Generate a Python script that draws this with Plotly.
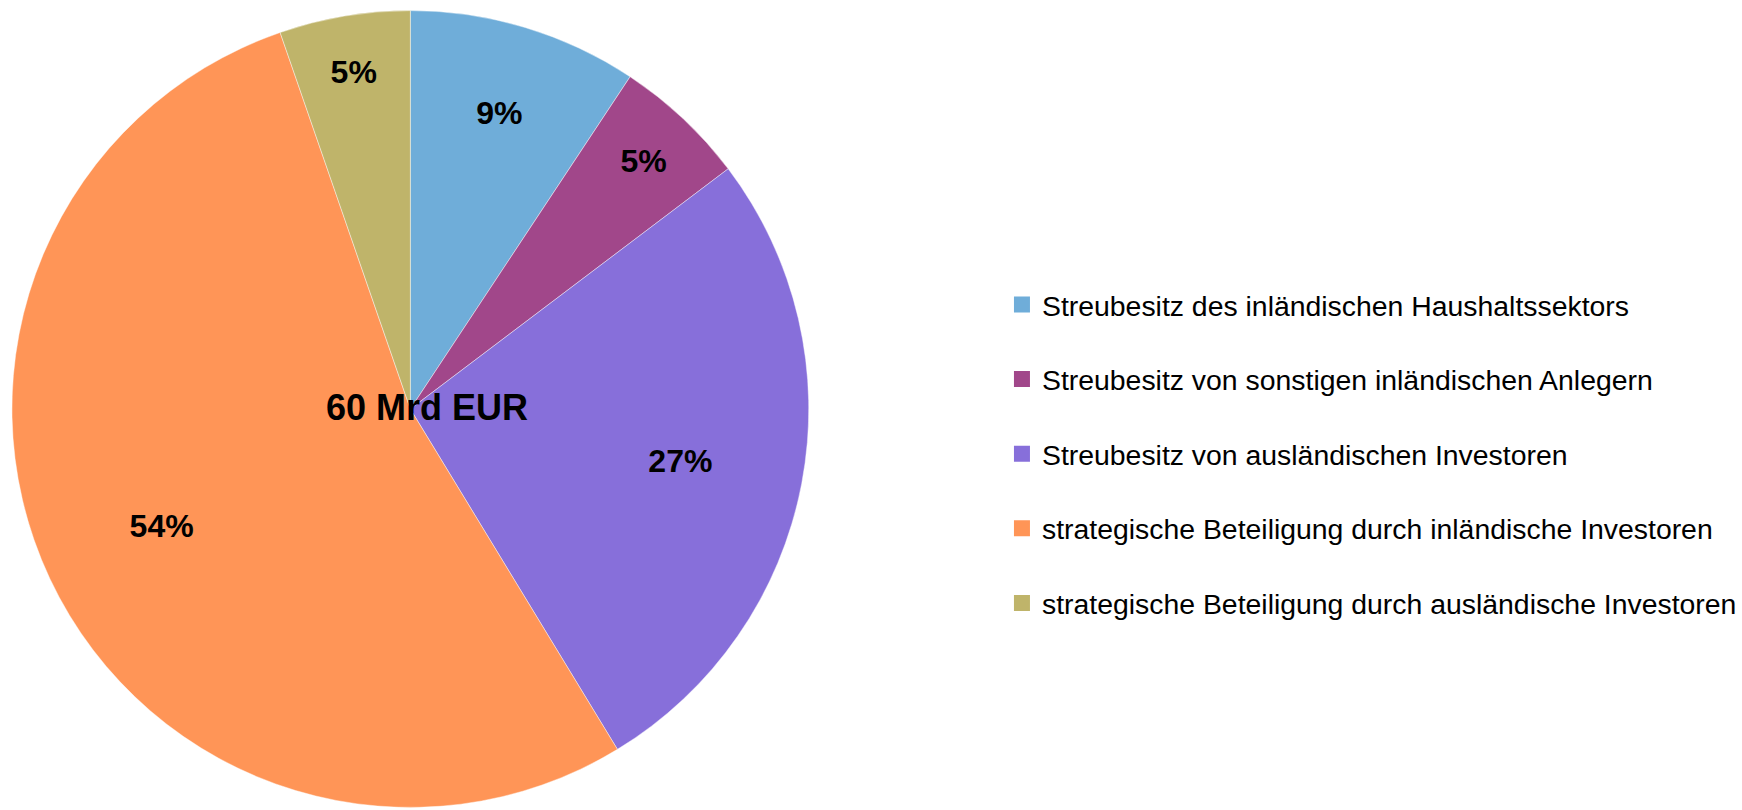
import plotly.graph_objects as go

categories = [
    "Streubesitz des inländischen Haushaltssektors",
    "Streubesitz von sonstigen inländischen Anlegern",
    "Streubesitz von ausländischen Investoren",
    "strategische Beteiligung durch inländische Investoren",
    "strategische Beteiligung durch ausländische Investoren",
]
shares = [9.3, 5.4, 26.6, 53.4, 5.3]
share_labels = ["9%", "5%", "27%", "54%", "5%"]
colors = ["#6FADD9", "#A1478A", "#876FDA", "#FF9557", "#BFB46A"]
center_label = "60 Mrd EUR"

W, H = 1742, 810
cx, cy, R = 412, 409, 400
dom = dict(x=[(cx - R) / W, (cx + R) / W], y=[(H - cy - R) / H, (H - cy + R) / H])

fig = go.Figure()
# the pie itself
fig.add_trace(go.Pie(
    labels=categories,
    values=shares,
    textinfo="none",
    marker=dict(colors=colors, line=dict(color="rgba(255,255,255,0.6)", width=0.7)),
    sort=False,
    direction="clockwise",
    rotation=0,
    showlegend=False,
    domain=dom,
    hoverinfo="label+percent",
))
# same slices, transparent, used only to place the percentage labels further out
fig.add_trace(go.Pie(
    labels=categories,
    values=shares,
    text=share_labels,
    textinfo="text",
    textposition="inside",
    insidetextorientation="horizontal",
    textfont=dict(family="Liberation Sans", size=32, color="black", weight="bold"),
    marker=dict(colors=["rgba(0,0,0,0)"] * len(shares), line=dict(width=0)),
    hole=0.38,
    sort=False,
    direction="clockwise",
    rotation=0,
    showlegend=False,
    domain=dom,
    hoverinfo="skip",
))

for i, (name, col) in enumerate(zip(categories, colors)):
    fig.add_trace(go.Scatter(
        x=[None], y=[None], mode="markers", name=name,
        marker=dict(symbol="square", size=16, color=col),
        legendgroup=f"g{i}", showlegend=True,
    ))

fig.add_annotation(
    x=429 / W, y=1 - 408 / H, xref="paper", yref="paper",
    text=f"<b>{center_label}</b>", showarrow=False,
    font=dict(family="Liberation Sans", size=36, color="black"),
    xanchor="center", yanchor="middle",
)

fig.update_layout(
    width=W, height=H, autosize=False,
    margin=dict(l=0, r=0, t=0, b=0),
    paper_bgcolor="white",
    plot_bgcolor="white",
    xaxis=dict(visible=False),
    yaxis=dict(visible=False),
    legend=dict(
        x=1006 / W, y=1 - 454 / H, xanchor="left", yanchor="middle",
        font=dict(family="Liberation Sans", size=28.4, color="black"),
        tracegroupgap=34.7, bgcolor="rgba(0,0,0,0)",
    ),
)

fig.write_html(
    "out.html",
    config={"displayModeBar": False},
    post_script="document.body.style.margin='0';document.body.style.overflow='hidden';",
)
